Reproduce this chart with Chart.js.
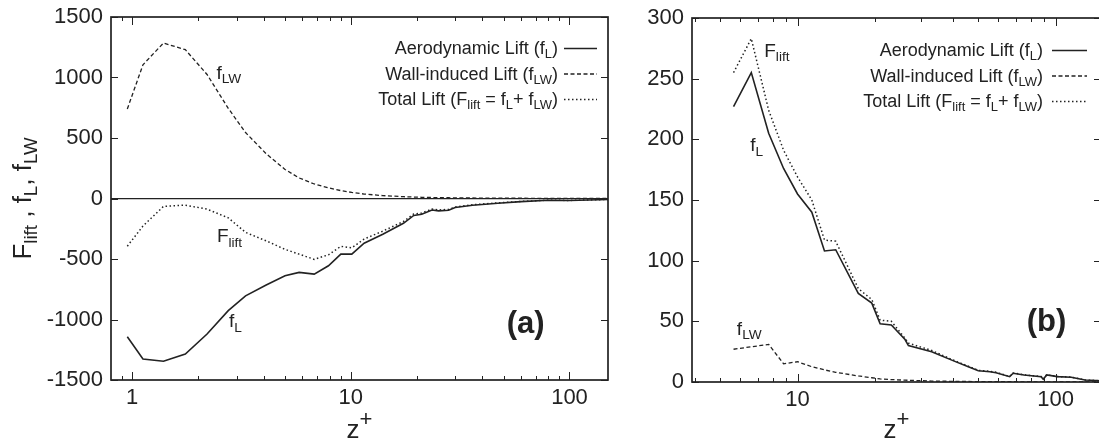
<!DOCTYPE html>
<html>
<head>
<meta charset="utf-8">
<script src="https://cdn.jsdelivr.net/npm/chart.js@4.4.1/dist/chart.umd.min.js"></script>
<style>
  html, body { margin: 0; padding: 0; background: #fff; overflow: hidden; }
  #wrap { position: relative; width: 1099px; height: 444px; overflow: hidden; }
  canvas { position: absolute; top: 0; }
  #lift-a { left: 0; }
  #lift-b { left: 600px; }
</style>
</head>
<body>
<div id="wrap">
  <canvas id="lift-a" width="650" height="444"></canvas>
  <canvas id="lift-b" width="510" height="444"></canvas>
</div>
<script>
const FONT = '"Liberation Sans", Arial, Helvetica, sans-serif'
const INK  = '#222'

// panel (a): lift components against wall distance z+
const zA      = [0.95, 1.12, 1.39, 1.75, 2.2, 2.75, 3.3, 4.1, 5.0, 5.8, 6.8, 7.9, 9.0, 10.1, 11.5, 14, 17.4, 19.4, 21.1, 23.5, 25.2, 28, 30, 36, 47, 60, 80, 100, 150]
const fL_A    = [-1142, -1326, -1345, -1285, -1120, -927, -805, -715, -638, -611, -625, -556, -460, -460, -370, -295, -205, -140, -130, -95, -102, -97, -75, -56, -39, -26, -15, -17, -8]
const fLW_A   = [740, 1105, 1285, 1230, 1025, 745, 545, 370, 240, 170, 120, 88, 65, 50, 37, 24, 15, 12, 10, 8, 7, 6, 5, 4, 3, 2, 1, 1, 0]
const Flift_A = [-394, -228, -65, -55, -88, -160, -280, -350, -420, -460, -503, -465, -395, -408, -335, -270, -190, -128, -120, -87, -95, -90, -70, -52, -36, -24, -14, -16, -8]

// panel (b)
const zB      = [5.65, 6.62, 7.73, 8.83, 10.0, 11.36, 12.72, 14.06, 17.2, 19.4, 20.9, 23.1, 26.1, 26.9, 33.1, 40.7, 45.9, 50.2, 55.7, 58.8, 66.4, 68.5, 75.4, 87.9, 89.6, 92.4, 101.6, 115, 130, 150]
const fL_B    = [227, 255, 205, 176, 155, 140, 108, 109, 73, 65, 48, 47, 35, 30, 25, 17, 12.6, 9.3, 8.5, 7.7, 4.4, 7.2, 5.8, 4.4, 2.2, 5.8, 4.4, 3.9, 1.6, 1]
const fLW_B   = [27, 29, 31, 15, 16.7, 12.6, 10, 8, 5, 3.5, 2.5, 2, 1.5, 1.4, 0.8, 0.5, 0.4, 0.3, 0.3, 0.2, 0.2, 0.2, 0.1, 0.1, 0.1, 0.1, 0.1, 0, 0, 0]
const Flift_B = [255, 283, 224, 191, 169, 150, 117, 116, 77, 68, 51, 50, 36, 32, 26, 17.5, 13, 9.6, 8.8, 8, 4.6, 7.4, 6, 4.5, 2.3, 6, 4.5, 4, 1.7, 1]

const yTicksA = [-1500, -1000, -500, 0, 500, 1000, 1500]
const yTicksB = [0, 50, 100, 150, 200, 250, 300]
const zTicksA = [0.9, 1, 2, 3, 4, 5, 6, 7, 8, 9, 10, 20, 30, 40, 50, 60, 70, 80, 90, 100]
const zTicksB = [4, 5, 6, 7, 8, 9, 10, 20, 30, 40, 50, 60, 70, 80, 90, 100]
const zLabels = [1, 10, 100]

const SUB = 'sub', SUP = 'sup'
const legendText = {
  fL:    [['Aerodynamic Lift (f'], ['L', SUB], [')']],
  fLW:   [['Wall-induced Lift (f'], ['LW', SUB], [')']],
  Flift: [['Total Lift (F'], ['lift', SUB], [' = f'], ['L', SUB], ['+ f'], ['LW', SUB], [')']],
}
const lineStyle = {
  fL:    { borderWidth: 1.6, borderDash: [] },
  fLW:   { borderWidth: 1.3, borderDash: [4, 2.5] },
  Flift: { borderWidth: 1.5, borderDash: [1.5, 2.5] },
}

const isDecade = v => Math.abs(Math.log10(v) - Math.round(Math.log10(v))) < 1e-9

// text with sub/superscript runs, e.g. [['f'], ['LW', 'sub']]
const runSize = (kind, size) => kind ? size * (kind === SUP ? 0.85 : 0.72) : size

function richWidth(ctx, parts, size, weight) {
  let w = 0
  for (const [txt, kind] of parts) {
    ctx.font = `${weight} ${runSize(kind, size)}px ${FONT}`
    w += ctx.measureText(txt).width
  }
  return w
}

function drawRich(ctx, parts, x, y, size, align = 'left', weight = 'normal') {
  const w = richWidth(ctx, parts, size, weight)
  let cx = align === 'right' ? x - w : align === 'center' ? x - w / 2 : x
  ctx.textAlign = 'left'
  ctx.textBaseline = 'alphabetic'
  for (const [txt, kind] of parts) {
    const dy = kind === SUB ? size * 0.24 : kind === SUP ? -size * 0.45 : 0
    ctx.font = `${weight} ${runSize(kind, size)}px ${FONT}`
    ctx.fillText(txt, cx, y + dy)
    cx += ctx.measureText(txt).width
  }
}

// gnuplot-style box: border plus inward ticks on all four sides
const frame = {
  id: 'frame',
  afterDraw(chart) {
    const { ctx, chartArea: a, scales: { x, y } } = chart
    ctx.save()
    ctx.strokeStyle = INK
    ctx.lineWidth = 1
    ctx.beginPath()
    for (const t of x.ticks) {
      const px = Math.round(x.getPixelForValue(t.value)) + 0.5
      const len = isDecade(t.value) ? 8 : 4
      ctx.moveTo(px, a.bottom); ctx.lineTo(px, a.bottom - len)
      ctx.moveTo(px, a.top);    ctx.lineTo(px, a.top + len)
    }
    for (const t of y.ticks) {
      const py = Math.round(y.getPixelForValue(t.value)) + 0.5
      ctx.moveTo(a.left, py);  ctx.lineTo(a.left + 7, py)
      ctx.moveTo(a.right, py); ctx.lineTo(a.right - 7, py)
    }
    ctx.stroke()
    ctx.lineWidth = 1.7
    ctx.strokeRect(a.left, a.top, a.right - a.left, a.bottom - a.top)
    ctx.restore()
  }
}

// legend keys at the top right, sample line to the right of the text
const keyBox = {
  id: 'keyBox',
  afterDraw(chart, args, opts) {
    const { ctx, chartArea: a } = chart
    ctx.save()
    ctx.fillStyle = INK
    ctx.strokeStyle = INK
    chart.data.datasets.forEach((ds, i) => {
      const rowY = a.top + opts.top + i * opts.step
      drawRich(ctx, legendText[ds.key], a.right - opts.textGap, rowY + 6, opts.size, 'right')
      ctx.lineWidth = ds.borderWidth
      ctx.setLineDash(ds.borderDash)
      ctx.beginPath()
      ctx.moveTo(a.right - opts.textGap + opts.lineGap, rowY + 0.5)
      ctx.lineTo(a.right - opts.lineEnd, rowY + 0.5)
      ctx.stroke()
      ctx.setLineDash([])
    })
    ctx.restore()
  }
}

// curve names, panel tag and axis titles
const notes = {
  id: 'notes',
  afterDraw(chart, args, opts) {
    const { ctx, chartArea: a, scales: { x, y } } = chart
    ctx.save()
    ctx.fillStyle = INK
    for (const n of opts.items) {
      drawRich(ctx, n.text, x.getPixelForValue(n.z), y.getPixelForValue(n.v), n.size, n.align || 'left', n.weight || 'normal')
    }
    drawRich(ctx, [['z'], ['+', SUP]], (a.left + a.right) / 2, a.bottom + opts.xTitleDrop, 26, 'center')
    if (opts.yTitle) {
      ctx.translate(31, (a.top + a.bottom) / 2)
      ctx.rotate(-Math.PI / 2)
      drawRich(ctx, opts.yTitle, 0, 0, 26, 'center')
    }
    ctx.restore()
  }
}

function series(z, vals, key) {
  return {
    key,
    data: z.map((zz, i) => ({ x: zz, y: vals[i] })),
    borderColor: INK,
    borderWidth: lineStyle[key].borderWidth,
    borderDash: lineStyle[key].borderDash,
    pointRadius: 0,
    tension: 0,
    fill: false,
  }
}

function makeChart(canvas, cfg) {
  return new Chart(canvas, {
    type: 'line',
    data: { datasets: cfg.datasets },
    plugins: [frame, keyBox, notes],
    options: {
      responsive: false,
      animation: false,
      devicePixelRatio: 1,
      layout: { padding: cfg.padding },
      plugins: {
        legend: { display: false },
        tooltip: { enabled: false },
        keyBox: cfg.key,
        notes: cfg.notes,
      },
      scales: {
        x: {
          type: 'logarithmic',
          min: cfg.zMin,
          max: 150,
          afterBuildTicks: s => { s.ticks = cfg.zTicks.map(v => ({ value: v })) },
          afterFit: s => { s.height = cfg.xHeight; s.paddingLeft = 0; s.paddingRight = 0 },
          grid: { display: false, drawTicks: false },
          border: { display: false },
          ticks: {
            autoSkip: false,
            maxRotation: 0,
            padding: 5,
            color: INK,
            font: { family: FONT, size: 22 },
            callback: v => zLabels.includes(v) ? String(v) : '',
          },
        },
        y: {
          min: cfg.yTicks[0],
          max: cfg.yTicks[cfg.yTicks.length - 1],
          afterBuildTicks: s => { s.ticks = cfg.yTicks.map(v => ({ value: v })) },
          afterFit: s => { s.width = cfg.yWidth; s.paddingTop = 0; s.paddingBottom = 0 },
          grid: {
            display: cfg.zeroLine,
            drawTicks: false,
            lineWidth: 1.3,
            color: c => (c.tick && c.tick.value === 0) ? INK : 'rgba(0,0,0,0)',
          },
          border: { display: false },
          ticks: {
            padding: 8,
            color: INK,
            font: { family: FONT, size: 22 },
            callback: v => String(v),
          },
        },
      },
    },
  })
}

makeChart(document.getElementById('lift-a'), {
  datasets: [series(zA, fL_A, 'fL'), series(zA, fLW_A, 'fLW'), series(zA, Flift_A, 'Flift')],
  padding: { left: 0, top: 17, right: 42, bottom: 0 },
  yWidth: 111, xHeight: 64, zMin: 0.8,
  zTicks: zTicksA, yTicks: yTicksA, zeroLine: true,
  key: { top: 31, step: 25.5, size: 18, textGap: 50, lineGap: 6, lineEnd: 11 },
  notes: {
    xTitleDrop: 58,
    yTitle: [['F'], ['lift', SUB], [' , f'], ['L', SUB], [', f'], ['LW', SUB]],
    items: [
      { text: [['f'], ['LW', SUB]], z: 2.43, v: 990, size: 19 },
      { text: [['F'], ['lift', SUB]], z: 2.44, v: -363, size: 19 },
      { text: [['f'], ['L', SUB]], z: 2.77, v: -1064, size: 19 },
      { text: [['(a)']], z: 77, v: -1114, size: 31, align: 'right', weight: 'bold' },
    ],
  },
})

makeChart(document.getElementById('lift-b'), {
  datasets: [series(zB, fL_B, 'fL'), series(zB, fLW_B, 'fLW'), series(zB, Flift_B, 'Flift')],
  padding: { left: 0, top: 18, right: 9, bottom: 0 },
  yWidth: 92, xHeight: 62, zMin: 3.9,
  zTicks: zTicksB, yTicks: yTicksB, zeroLine: false,
  key: { top: 32, step: 25.5, size: 18, textGap: 58, lineGap: 9, lineEnd: 14 },
  notes: {
    xTitleDrop: 56,
    items: [
      { text: [['F'], ['lift', SUB]], z: 7.43, v: 268, size: 19 },
      { text: [['f'], ['L', SUB]], z: 6.56, v: 190, size: 19 },
      { text: [['f'], ['LW', SUB]], z: 5.82, v: 39, size: 19 },
      { text: [['(b)']], z: 110, v: 42, size: 31, align: 'right', weight: 'bold' },
    ],
  },
})
</script>
</body>
</html>
